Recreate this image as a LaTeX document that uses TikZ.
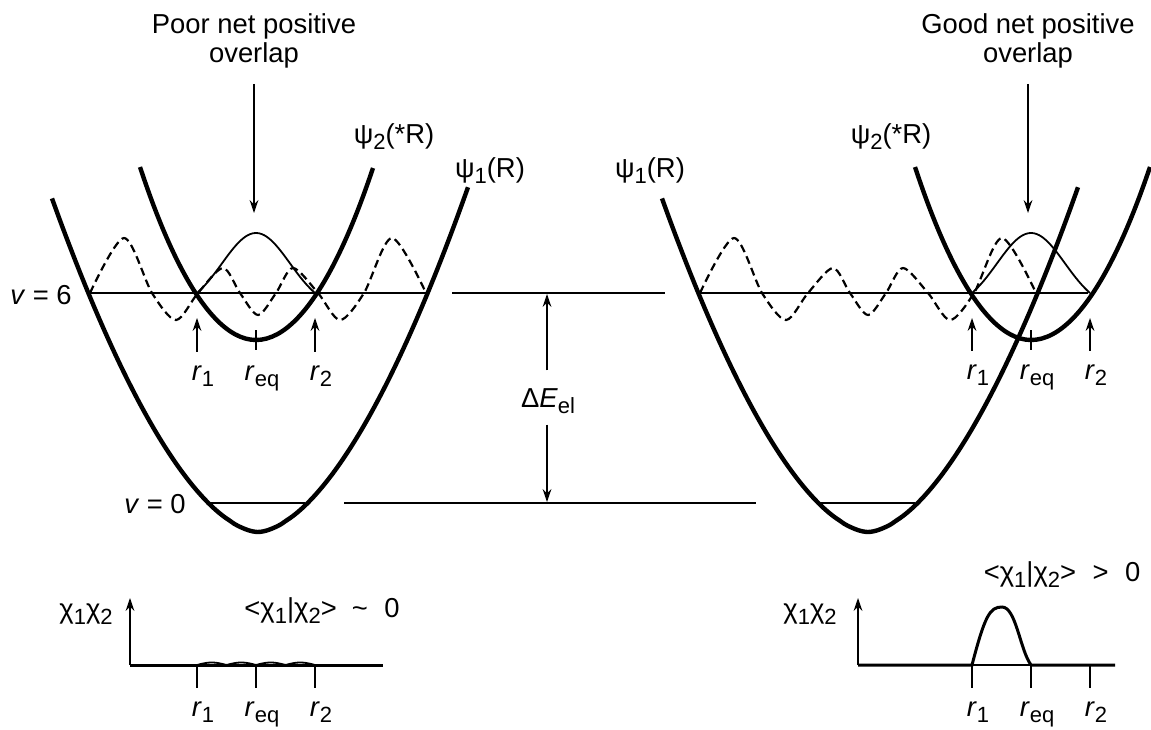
\documentclass[tikz,border=0pt]{standalone}
\usepackage{fontspec}
\setmainfont{Liberation Sans}
\usetikzlibrary{arrows.meta}
\newcommand{\lo}[1]{\raisebox{-3.3pt}{\fontsize{11}{11}\selectfont #1}}

\begin{document}
\begin{tikzpicture}[x=0.5pt, y=-0.5pt, >={Stealth[length=6.5pt,width=4.4pt]}, line width=0.7pt,
    pes/.style={line width=2.2pt},
    wave/.style={line width=1.1pt, dash pattern=on 4pt off 2.3pt},
    lbl/.style={inner sep=0pt, font=\fontsize{13.7}{14.5}\selectfont}]
    \useasboundingbox (0,0) rectangle (1151,729);
    \def\Ls{293} % v = 6 level
    \def\Lz{503} % v = 0 level

    % Left panel: lower state psi_1
    \begin{scope}[shift={(258,0)}]
        \draw[pes] plot[domain=-206:210, samples=90, smooth] (\x, {532-333*pow(abs(\x)/206+0.001,1.72)});
        \draw (-50,\Lz) -- (47,\Lz);
        \draw (-170,\Ls) -- (170,\Ls);
        \draw[wave] plot[smooth] coordinates {(-168,293) (-134,238) (-106,293) (-82,320) (-60,293) (-35,268) (-18,293) (0,315) (18,293) (35,268) (60,293) (82,320) (106,293) (134,238) (168,293)};
    \end{scope}

    % Left panel: upper state psi_2, far off
    \begin{scope}[shift={(256,0)}]
        \draw[pes] (-116,167) parabola bend (0,340) (117,168);
        \draw[line width=0.9pt] plot[domain=-59:59, samples=50, smooth] (\x, {\Ls+17-77*exp(-((\x/48)^2))});
        \node[lbl, anchor=base] (r1L) at (-53,380) {\textit{r}\lo{1}};
        \node[lbl, anchor=base] (reL) at (6,380) {\textit{r}\lo{eq}};
        \node[lbl, anchor=base] (r2L) at (65,380) {\textit{r}\lo{2}};
        \coordinate (a1L) at (-59,318);
        \coordinate (a2L) at (59,318);
        \draw[->, shorten <=6.5pt] (a1L |- r1L.north) -- (a1L);
        \draw[->, shorten <=6.5pt] (a2L |- r2L.north) -- (a2L);
        \draw (0,330) -- (0,350);
    \end{scope}

    % Right panel: lower state psi_1
    \begin{scope}[shift={(868,0)}]
        \draw[pes] plot[domain=-206:210, samples=90, smooth] (\x, {532-333*pow(abs(\x)/206+0.001,1.72)});
        \draw (-50,\Lz) -- (47,\Lz);
        \draw (-170,\Ls) -- (220,\Ls);
        \draw[wave] plot[smooth] coordinates {(-168,293) (-134,238) (-106,293) (-82,320) (-60,293) (-35,268) (-18,293) (0,315) (18,293) (35,268) (60,293) (82,320) (106,293) (134,238) (168,293)};
    \end{scope}

    % Right panel: upper state psi_2, close by
    \begin{scope}[shift={(1031,0)}]
        \draw[pes] (-116,167) parabola bend (0,340) (119,167);
        \draw[line width=0.9pt] plot[domain=-59:59, samples=50, smooth] (\x, {\Ls+17-77*exp(-((\x/48)^2))});
        \node[lbl, anchor=base] (r1R) at (-53,379) {\textit{r}\lo{1}};
        \node[lbl, anchor=base] (reR) at (6,379) {\textit{r}\lo{eq}};
        \node[lbl, anchor=base] (r2R) at (65,379) {\textit{r}\lo{2}};
        \coordinate (a1R) at (-59,318);
        \coordinate (a2R) at (59,318);
        \draw[->, shorten <=6.5pt] (a1R |- r1R.north) -- (a1R);
        \draw[->, shorten <=6.5pt] (a2R |- r2R.north) -- (a2R);
        \draw (0,330) -- (0,350);
    \end{scope}

    % Curve labels
    \node[lbl, anchor=base] (psi2L) at (394,143) {ψ\lo{2}(*R)};
    \node[lbl, anchor=base] (psi1L) at (490,177) {ψ\lo{1}(R)};
    \node[lbl, anchor=base] (psi1R) at (650,177) {ψ\lo{1}(R)};
    \node[lbl, anchor=base] (psi2R) at (891,143) {ψ\lo{2}(*R)};
    \node[lbl, anchor=base] (v6) at (41,304) {\textit{v} = 6};
    \node[lbl, anchor=base] (v0) at (155,513) {\textit{v} = 0};

    % Overlap remarks
    \node[lbl, align=center] (poor) at (254,41) {Poor net positive\\overlap};
    \node[lbl, align=center] (good) at (1028,41) {Good net positive\\overlap};
    \coordinate (pkL) at (254,213);
    \coordinate (pkR) at (1028,213);
    \draw[->, shorten <=7.5pt] (poor.south) -- (pkL);
    \draw[->, shorten <=7.5pt] (good.south) -- (pkR);

    % Energy gap
    \draw (452,\Ls) -- (665,\Ls);
    \draw (344,\Lz) -- (756,\Lz);
    \node[lbl, anchor=base] (dE) at (548,407) {Δ\textit{E}\lo{el}};
    \coordinate (e6) at (547,\Ls);
    \coordinate (e0) at (547,\Lz);
    \draw[->, shorten <=8.5pt] (e6 |- dE.north) -- ([yshift=-0.5pt]e6);
    \draw[->, shorten <=5pt] (e0 |- dE.south) -- ([yshift=0.5pt]e0);

    % Product chi_1 chi_2, left
    \draw[->] (130,665) -- (130,598);
    \draw[line width=1.5pt] (130,665) -- (383,665);
    \draw[line width=0.9pt] plot[domain=197:315, samples=80, smooth] (\x, {665-2.5*abs(sin((\x-197)/118*720))});
    \foreach \t/\s [count=\i] in {197/1, 256/eq, 315/2} {
        \draw (\t,665) -- (\t,688);
        \node[lbl, anchor=base] (bl\i) at (\t+6,716) {\textit{r}\lo{\s}};
    }
    \node[lbl] (cxL) at (86,614) {χ\lo{1}χ\lo{2}};
    \node[lbl, anchor=base] (ovL) at (322,617) {<χ\lo{1}|χ\lo{2}>\hspace{0.55em}\textasciitilde\hspace{0.6em}0};

    % Product chi_1 chi_2, right
    \draw[->] (858,665) -- (858,598);
    \draw (858,665) -- (1115,665);
    \draw[line width=1.5pt] (858,665) -- (972,665) .. controls (985,615) and (990,607) .. (1002,607) .. controls (1016,607) and (1020,650) .. (1031,665) -- (1115,665);
    \foreach \t/\s [count=\i] in {972/1, 1031/eq, 1090/2} {
        \draw (\t,665) -- (\t,688);
        \node[lbl, anchor=base] (br\i) at (\t+6,716) {\textit{r}\lo{\s}};
    }
    \node[lbl] (cxR) at (810,614) {χ\lo{1}χ\lo{2}};
    \node[lbl, anchor=base] (ovR) at (1062,581) {<χ\lo{1}|χ\lo{2}>\hspace{0.6em}>\hspace{0.6em}0};
\end{tikzpicture}
\end{document}
